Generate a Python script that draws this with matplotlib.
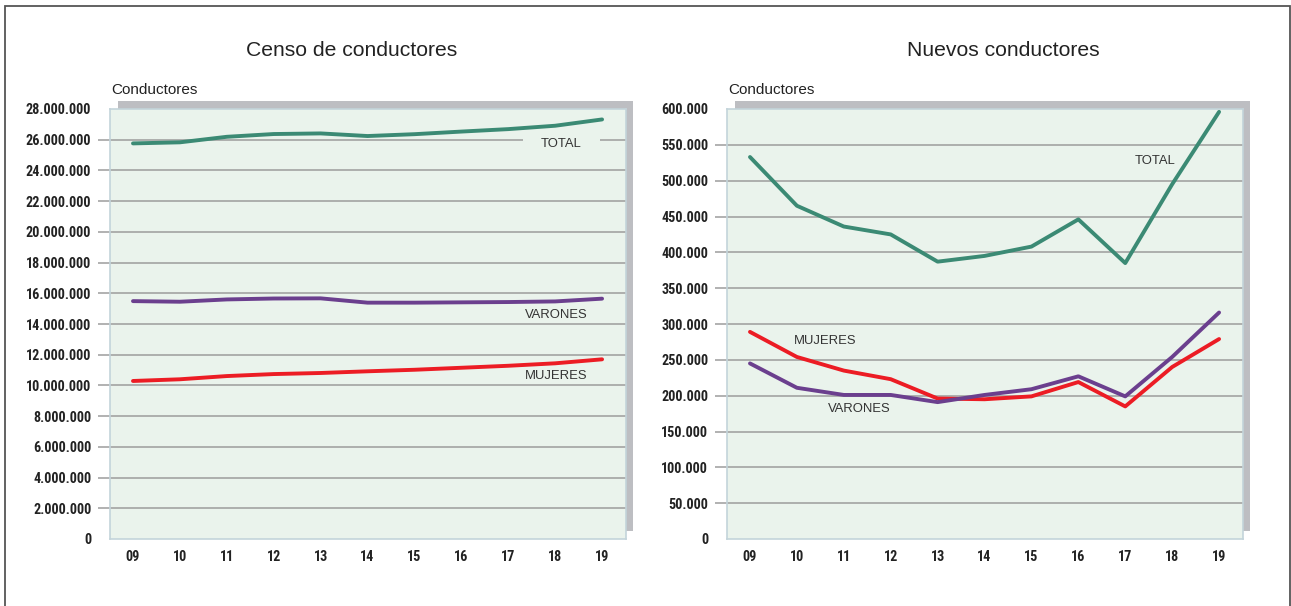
import matplotlib
matplotlib.use("Agg")
import matplotlib.pyplot as plt
from matplotlib.patches import Rectangle
from matplotlib import font_manager
import matplotlib.transforms as mtransforms

# ---------------- data ----------------
years = ["09", "10", "11", "12", "13", "14", "15", "16", "17", "18", "19"]

censo_total = [25.76, 25.83, 26.19, 26.37, 26.41, 26.24, 26.36, 26.53, 26.69, 26.91, 27.32]   # millions
censo_varones = [15.49, 15.45, 15.60, 15.66, 15.67, 15.39, 15.39, 15.41, 15.43, 15.47, 15.65]
censo_mujeres = [10.29, 10.40, 10.61, 10.74, 10.81, 10.92, 11.02, 11.15, 11.28, 11.44, 11.70]

nuevos_total = [533, 465, 436, 425, 387, 395, 408, 446, 385, 495, 596]   # thousands
nuevos_mujeres = [289, 254, 235, 223, 196, 195, 199, 219, 185, 240, 279]
nuevos_varones = [245, 211, 201, 201, 191, 201, 209, 227, 199, 254, 316]

censo_ticks = list(range(0, 28001, 2000))      # thousands
censo_tick_labels = ["0"] + ["{:d}.000.000".format(v // 1000) for v in censo_ticks[1:]]
nuevos_ticks = list(range(0, 601, 50))
nuevos_tick_labels = ["0"] + ["{:d}.000".format(v) for v in nuevos_ticks[1:]]

titles = ["Censo de conductores", "Nuevos conductores"]
ylabel = "Conductores"

# ---------------- style ----------------
C_TOTAL = "#3b8a74"
C_VAR = "#6b3f8e"
C_MUJ = "#ec1c24"
C_BG = "#eaf3ec"
C_GRID = "#9c9c9c"
C_FRAME = "#c3d4da"
C_SHADOW = "#bdbec2"
C_TEXT = "#222222"

names = {f.name for f in font_manager.fontManager.ttflist}
narrow = None
for cand in ["Liberation Sans Narrow", "Arial Narrow", "Roboto Condensed", "Open Sans Condensed"]:
    if cand in names:
        narrow = cand
        break
if narrow:
    TICKFONT = dict(family=narrow, fontweight="bold", fontsize=10.2)
else:
    TICKFONT = dict(family="Liberation Sans", fontweight="bold", fontsize=10)
plt.rcParams["font.family"] = ["Liberation Sans", "DejaVu Sans"]

W, H = 1291, 606
fig = plt.figure(figsize=(W / 100, H / 100), dpi=100)

# outer frame
fig.patches.append(Rectangle((5 / W, -0.05), (1289.5 - 5) / W, 1.05 - 6.5 / H,
                             transform=fig.transFigure, fill=False,
                             edgecolor="#555555", linewidth=1.3, zorder=0))


def px_rect(x0, y0, x1, y1):
    return [x0 / W, 1 - y1 / H, (x1 - x0) / W, (y1 - y0) / H]


panels = [
    dict(rect=(110, 109, 626, 539), ymax=28000, ticks=censo_ticks, labels=censo_tick_labels,
         series=[([v * 1000 for v in censo_total], C_TOTAL),
                 ([v * 1000 for v in censo_varones], C_VAR),
                 ([v * 1000 for v in censo_mujeres], C_MUJ)],
         title_x=352),
    dict(rect=(727, 109, 1243, 539), ymax=600, ticks=nuevos_ticks, labels=nuevos_tick_labels,
         series=[(nuevos_total, C_TOTAL), (nuevos_mujeres, C_MUJ), (nuevos_varones, C_VAR)],
         title_x=1003),
]

axes = []
for i, p in enumerate(panels):
    x0, y0, x1, y1 = p["rect"]
    # shadow (offset right/up)
    sx0, sy0, sx1, sy1 = x0 + 8, y0 - 8, x1 + 7, y1 - 8
    fig.patches.append(Rectangle((sx0 / W, 1 - sy1 / H), (sx1 - sx0) / W, (sy1 - sy0) / H,
                                 transform=fig.transFigure, facecolor=C_SHADOW,
                                 edgecolor="none", zorder=0.5))
    ax = fig.add_axes(px_rect(x0, y0, x1, y1))
    ax.set_zorder(1)
    ax.set_facecolor(C_BG)
    for s in ax.spines.values():
        s.set_edgecolor(C_FRAME)
        s.set_linewidth(1.2)
    xs = list(range(len(years)))
    ax.set_xlim(-0.49, len(years) - 1 + 0.51)
    ax.set_ylim(0, p["ymax"])
    ax.set_yticks(p["ticks"])
    ax.set_yticklabels(p["labels"], **TICKFONT, color=C_TEXT)
    ax.set_xticks(xs)
    ax.set_xticklabels(years, **TICKFONT, color=C_TEXT)
    ax.tick_params(axis="y", length=0, pad=13.5)
    ax.tick_params(axis="x", length=0, pad=8)
    # gridlines extending left beyond the plot area
    trans = mtransforms.blended_transform_factory(ax.transAxes, ax.transData)
    ax.hlines(p["ticks"][1:-1], -12 / 516, 1, transform=trans, colors=C_GRID,
              linewidth=1.1, clip_on=False, zorder=1)
    for vals, col in p["series"]:
        ax.plot(xs, vals, color=col, linewidth=2.8, solid_capstyle="round",
                solid_joinstyle="round", zorder=3)
    fig.text(p["title_x"] / W, 1 - 50 / H, titles[i], ha="center", va="center",
             fontsize=15.2, color=C_TEXT)
    fig.text((x0 + 1) / W, 1 - 90 / H, ylabel, ha="left", va="center",
             fontsize=11, color=C_TEXT)
    axes.append(ax)

lab = dict(fontsize=9.4, color="#333333", zorder=2)
ax0, ax1 = axes
ax0.text(9.13, 25720, "TOTAL", ha="center", va="center", **lab,
         bbox=dict(boxstyle="square,pad=1.4", facecolor=C_BG, edgecolor="none"))
ax0.text(9.68, 14560, "VARONES", ha="right", va="center", **lab)
ax0.text(9.68, 10600, "MUJERES", ha="right", va="center", **lab)
ax1.text(8.64, 527, "TOTAL", ha="center", va="center", **lab)
ax1.text(1.6, 276, "MUJERES", ha="center", va="center", **lab)
ax1.text(2.32, 181, "VARONES", ha="center", va="center", **lab)

fig.savefig("out.png", dpi=100)
